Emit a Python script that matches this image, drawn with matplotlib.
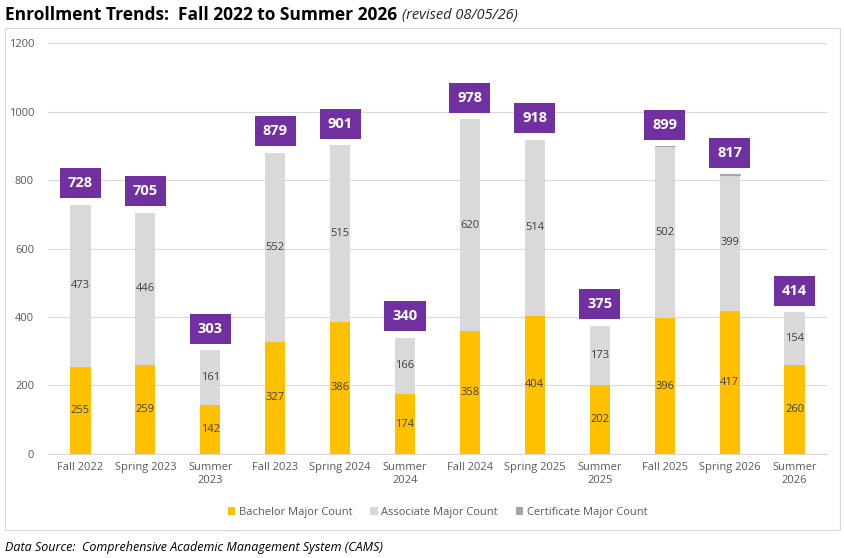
import numpy as np
import matplotlib
matplotlib.use("Agg")
from matplotlib import pyplot as plt
from matplotlib.patches import Rectangle

plt.rcParams['font.family'] = ['Open Sans', 'DejaVu Sans']

# Data
terms = ["Fall 2022", "Spring 2023", "Summer\n2023", "Fall 2023", "Spring 2024", "Summer\n2024",
         "Fall 2024", "Spring 2025", "Summer\n2025", "Fall 2025", "Spring 2026", "Summer\n2026"]
bachelor = [255, 259, 142, 327, 386, 174, 358, 404, 202, 396, 417, 260]
associate = [473, 446, 161, 552, 515, 166, 620, 514, 173, 502, 399, 154]
certificate = [0, 0, 0, 0, 0, 0, 0, 0, 0, 1, 1, 0]
totals = [728, 705, 303, 879, 901, 340, 978, 918, 375, 899, 817, 414]

gold = "#FFC000"
lgray = "#D9D9D9"
dgray = "#A5A5A5"
purple = "#7030A0"
txt = "#595959"

fig = plt.figure(figsize=(8.45, 5.58), dpi=100)
ax = fig.add_axes([0.0568, 0.1864, 0.9219, 0.7365])

# chart border
fig.patches.append(Rectangle((5 / 845, 28 / 558), 835 / 845, 502 / 558, transform=fig.transFigure,
                             fill=False, edgecolor="#D9D9D9", linewidth=0.8))

x = np.arange(len(terms))
w = 0.31
b = np.array(bachelor)
a = np.array(associate)
c = np.array(certificate)
ax.bar(x, b, w, color=gold, label="Bachelor Major Count", zorder=3)
ax.bar(x, a, w, bottom=b, color=lgray, label="Associate Major Count", zorder=3)
ax.bar(x, c, w, bottom=b + a, color=dgray, label="Certificate Major Count", zorder=3,
       edgecolor=[dgray if v > 0 else "none" for v in c], linewidth=0.8)

for i in range(len(x)):
    ax.text(x[i], b[i] / 2, str(bachelor[i]), ha="center", va="center", fontsize=8, color="#404040", zorder=4)
    ax.text(x[i], b[i] + a[i] / 2, str(associate[i]), ha="center", va="center", fontsize=8, color="#404040", zorder=4)
    ax.annotate(str(totals[i]), (x[i], totals[i]), xytext=(0, 15.5), textcoords="offset points",
                ha="center", va="center", fontsize=10.5, fontweight="bold", color="white",
                bbox=dict(boxstyle="square,pad=0.55", facecolor=purple, edgecolor="none"), zorder=5)

ax.set_xlim(-0.5, len(terms) - 0.5)
ax.set_ylim(0, 1200)
ax.set_yticks(range(0, 1201, 200))
ax.yaxis.grid(True, color="#D9D9D9", linewidth=0.8, zorder=0)
ax.set_xticks(x)
ax.set_xticklabels(terms)
ax.tick_params(axis="both", length=0, labelsize=8, labelcolor=txt)
ax.tick_params(axis="y", pad=10)
ax.tick_params(axis="x", pad=6)
for s in ["top", "right", "left"]:
    ax.spines[s].set_visible(False)
ax.spines["bottom"].set_color("#D9D9D9")

ax.legend(loc="upper center", bbox_to_anchor=(0.5, -0.105), ncol=3, frameon=False, fontsize=8,
          handlelength=0.7, handleheight=0.7, handletextpad=0.3, columnspacing=1.6, labelcolor=txt)

fig.text(5 / 845, 1 - 15 / 558, "Enrollment Trends:  Fall 2022 to Summer 2026", fontsize=12.5,
         fontweight="bold", va="center", ha="left", color="black")
fig.text(402 / 845, 1 - 15 / 558, "(revised 08/05/26)", fontsize=10.5, style="italic", va="center",
         ha="left", color="#262626")
fig.text(5 / 845, 1 - 547 / 558, "Data Source:  Comprehensive Academic Management System (CAMS)",
         fontsize=9, style="italic", va="center", ha="left", color="black")

fig.savefig("out.png", dpi=100)
